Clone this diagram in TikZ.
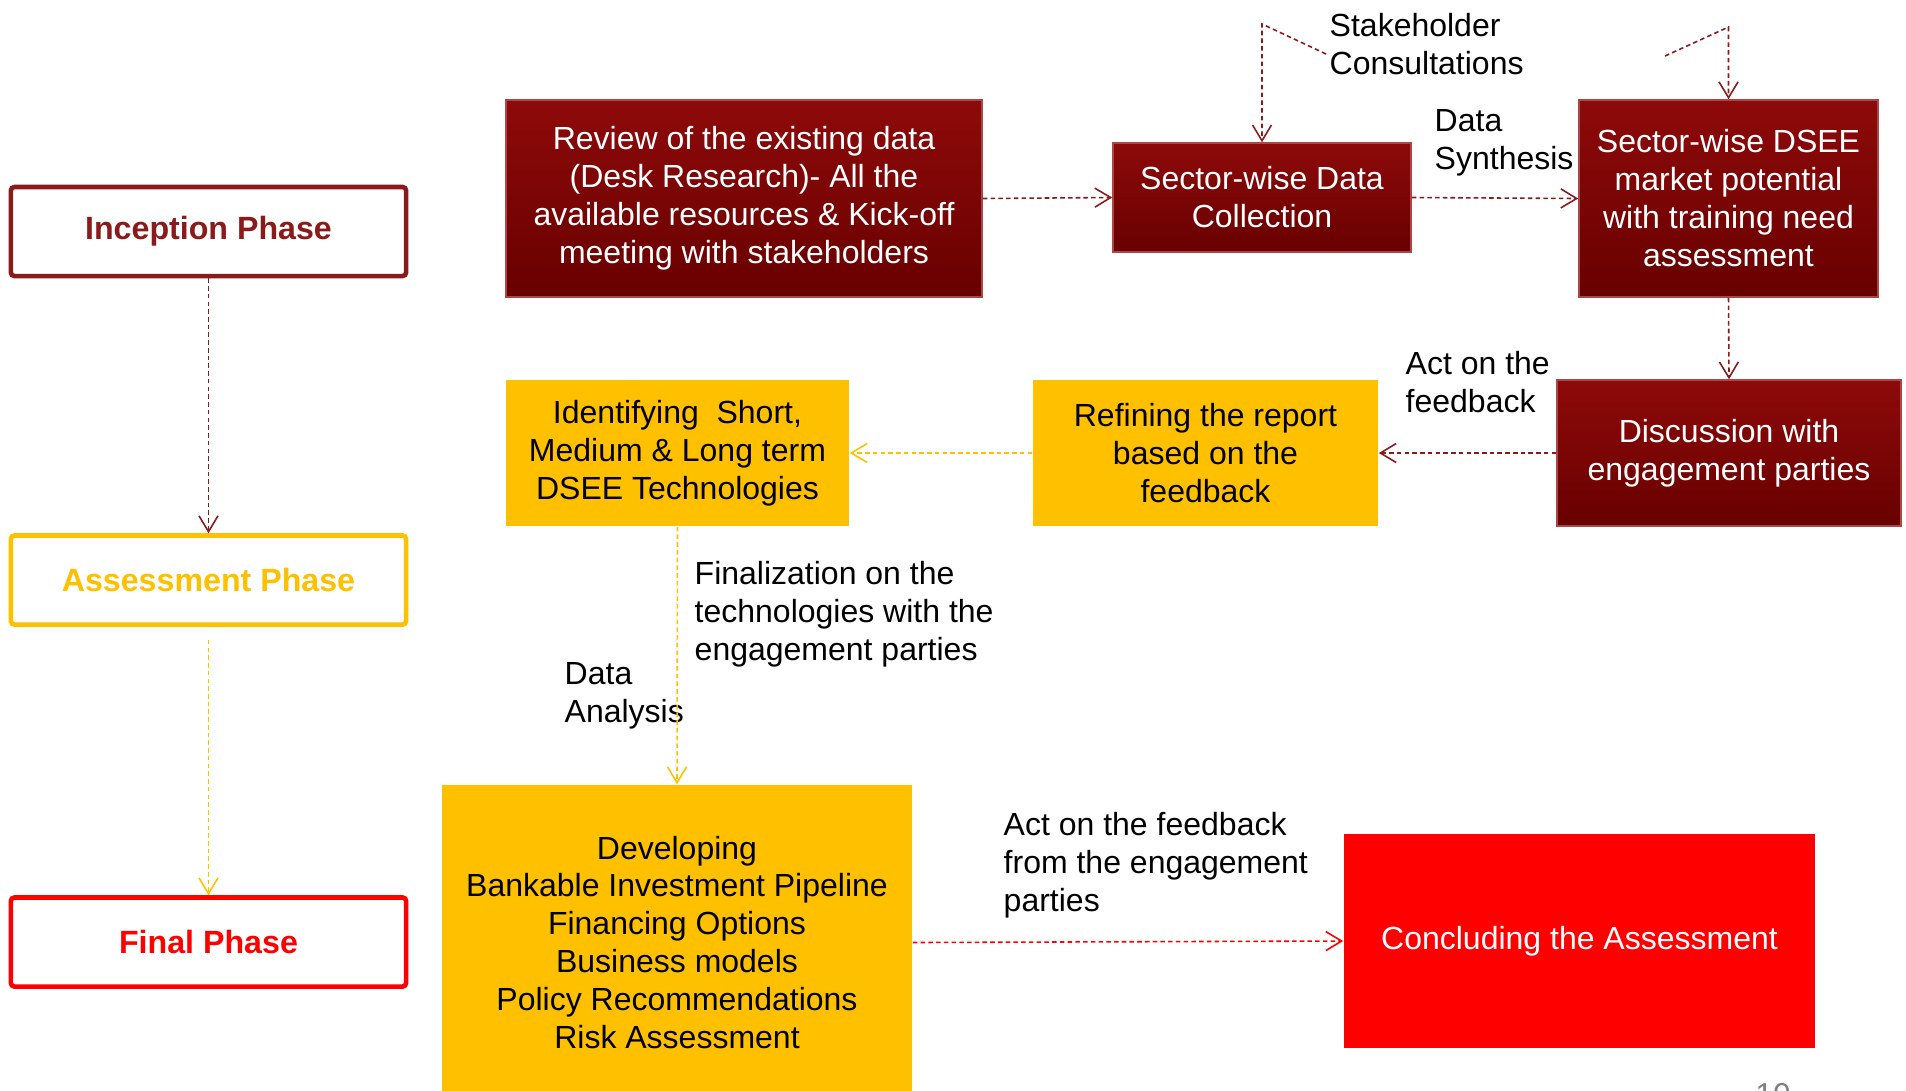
\documentclass[tikz,border=0pt]{standalone}
\usepackage{fontspec}
\setmainfont{Liberation Sans}
\usetikzlibrary{arrows.meta}

\definecolor{darkred}{HTML}{8B1A1A}
\definecolor{boxtop}{HTML}{8E0A0A}
\definecolor{boxbot}{HTML}{680000}
\definecolor{gold}{HTML}{FFC000}
\definecolor{brightred}{HTML}{FF0000}

\tikzset{
  redbox/.style={
    top color=boxtop,
    bottom color=boxbot,
    shading=axis,
    draw=boxtop!75!white,
    line width=0.4pt,
    text=white,
    align=center,
    inner sep=0pt},
  yelbox/.style={
    fill=gold,
    text=black,
    align=center,
    inner sep=0pt},
  phasebox/.style={
    draw=#1,
    text=#1,
    fill=white,
    line width=1.3pt,
    rounded corners=1pt,
    minimum width=3.95cm,
    minimum height=0.89cm,
    font=\fontsize{9.15}{10}\selectfont\bfseries},
  flow/.style={
    draw=#1,
    line width=0.45pt,
    dash pattern=on 1.3pt off 0.9pt,
    -{Straight Barb[length=4.5pt,width=5.4pt]}},
  lbl/.style={anchor=west, align=left, inner sep=0pt, text=black}
}

\begin{document}
\begin{tikzpicture}[x=0.01cm, y=-0.01cm, font=\fontsize{9.1}{10.8}\selectfont]
\useasboundingbox (0,0) rectangle (1906,1090);

% phases on the left
\node[phasebox=darkred] (inc) at (208.5,231.5) {Inception Phase};
\node[phasebox=gold] (asm) at (208.5,580) {Assessment Phase};
\node[phasebox=brightred] (fin) at (208.5,942) {Final Phase};

% inception steps
\node[redbox, minimum width=4.76cm, minimum height=1.97cm] (rev) at (744,198.5)
  {Review of the existing data\\(Desk Research)- All the\\available resources \& Kick-off\\meeting with stakeholders};
\node[redbox, minimum width=2.98cm, minimum height=1.09cm] (col) at (1262,197.5)
  {Sector-wise Data\\Collection};
\node[redbox, minimum width=2.99cm, minimum height=1.97cm] (dsee) at (1728.5,198.5)
  {Sector-wise DSEE\\market potential\\with training need\\assessment};
\node[redbox, minimum width=3.44cm, minimum height=1.46cm] (disc) at (1729,453)
  {Discussion with\\engagement parties};

% assessment steps
\node[yelbox, minimum width=3.45cm, minimum height=1.46cm] (refi) at (1205.5,453)
  {Refining the report\\based on the\\feedback};
\node[yelbox, minimum width=3.43cm, minimum height=1.46cm] (iden) at (677.5,453)
  {Identifying\ \ Short,\\Medium \& Long term\\DSEE Technologies};

% final steps
\node[yelbox, minimum width=4.70cm, minimum height=3.15cm] (dev) at (677,942.5)
  {Developing\\Bankable Investment Pipeline\\Financing Options\\Business models\\Policy Recommendations\\Risk Assessment};
\node[fill=brightred, text=white, inner sep=0pt, minimum width=4.71cm, minimum height=2.14cm] (conc) at (1579.5,941)
  {Concluding the Assessment};

% labels
\node[lbl] (stake) at (1329,44) {Stakeholder\\Consultations};
\node[lbl] (synth) at (1434,143) {Data\\Synthesis};
\node[lbl] (act) at (1405,382) {Act on the\\feedback};
\node[lbl] (final) at (694,614) {Finalization on the\\technologies with the\\engagement parties};
\node[lbl] (anal) at (564,696) {Data\\Analysis};
\node[lbl] (act2) at (1003,865) {Act on the feedback\\from the engagement\\parties};
\node[text=gray, font=\fontsize{9}{10}\selectfont] (pgno) at (1773,1095) {10};

\coordinate (s1) at (1326,54);
\coordinate (c1) at (1262,24);
\coordinate (s2) at (1665,56);
\coordinate (c2) at (1728.5,27);

% connectors
\draw[flow=darkred] (inc.south) -- (asm.north);
\draw[flow=gold, shorten <=0.13cm] (asm.south) -- (fin.north);
\draw[flow=darkred] (rev.east) -- (col.west);
\draw[flow=darkred] (col.east) -- (dsee.west);
\draw[flow=darkred] (dsee.south) -- (disc.north);
\draw[flow=darkred] (disc.west) -- (refi.east);
\draw[flow=gold] (refi.west) -- (iden.east);
\draw[flow=gold] (iden.south) -- (dev.north);
\draw[flow=brightred] (dev.east) -- (conc.west);
\draw[flow=darkred] (s1) -- (c1) -- (col.north);
\draw[flow=darkred] (s2) -- (c2) -- (dsee.north);
\end{tikzpicture}
\end{document}
